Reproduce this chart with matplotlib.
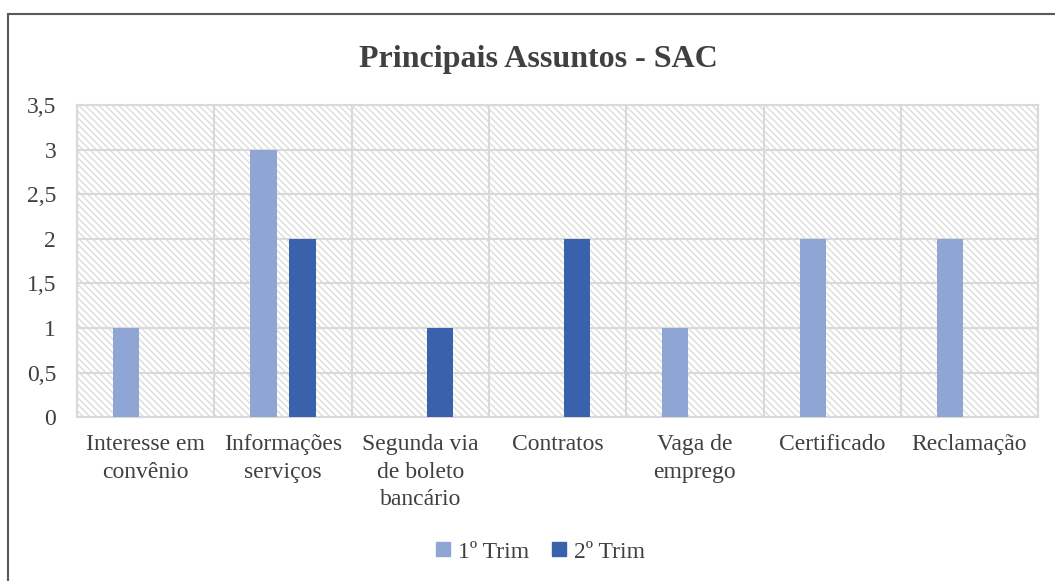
import matplotlib
matplotlib.use("Agg")
import matplotlib.pyplot as plt
import numpy as np
from matplotlib.patches import Rectangle
from matplotlib.lines import Line2D

categories = [
    "Interesse em\nconvênio",
    "Informações\nserviços",
    "Segunda via\nde boleto\nbancário",
    "Contratos",
    "Vaga de\nemprego",
    "Certificado",
    "Reclamação",
]
trim1 = [1, 3, 0, 0, 1, 2, 2]
trim2 = [0, 2, 1, 2, 0, 0, 0]
series_names = ["1º Trim", "2º Trim"]
yticks = [0, 0.5, 1, 1.5, 2, 2.5, 3, 3.5]
ytick_labels = ["0", "0,5", "1", "1,5", "2", "2,5", "3", "3,5"]

light = "#8FA5D4"
dark = "#3A62AC"
text_color = "#404040"
grid_color = "#D9D9D9"

plt.rcParams["font.family"] = ["Liberation Serif", "DejaVu Serif"]
plt.rcParams["hatch.linewidth"] = 1.0

fig = plt.figure(figsize=(10.55, 5.81), dpi=100)
ax = fig.add_axes([0.073, 0.282, 0.911, 0.537])

# hatched plot-area background
bg = Rectangle((0, 0), 1, 1, transform=ax.transAxes, facecolor="white",
               edgecolor="#DCDCDC", hatch="\\\\\\\\\\", linewidth=0, zorder=0)
ax.add_patch(bg)

x = np.arange(len(categories))
width = 0.19
offset = 0.142
ax.bar(x - offset, trim1, width, color=light, zorder=3)
ax.bar(x + offset, trim2, width, color=dark, zorder=3)

ax.set_xlim(-0.5, len(categories) - 0.5)
ax.set_ylim(0, 3.5)
ax.set_yticks(yticks)
ax.set_yticklabels(ytick_labels)
ax.set_xticks(x)
ax.set_xticklabels(categories, va="top")

for yv in yticks:
    ax.axhline(yv, color=grid_color, lw=1.5, zorder=1)
for xv in np.arange(-0.5, len(categories), 1.0):
    ax.axvline(xv, color=grid_color, lw=1.5, zorder=1)

for s in ax.spines.values():
    s.set_color(grid_color)
    s.set_linewidth(1.5)

ax.tick_params(axis="both", length=0, labelsize=17, colors=text_color)
ax.tick_params(axis="y", pad=15)
ax.tick_params(axis="x", pad=12)
for lbl in ax.get_xticklabels():
    lbl.set_linespacing(1.42)

fig.text(0.51, 0.898, "Principais Assuntos - SAC", ha="center", va="center",
         fontsize=23, fontweight="bold", color=text_color)

handles = [
    Line2D([], [], marker="s", linestyle="none", markersize=10, color=light),
    Line2D([], [], marker="s", linestyle="none", markersize=10, color=dark),
]
fig.legend(handles, series_names, loc="center", bbox_to_anchor=(0.51, 0.05),
           ncol=2, frameon=False, fontsize=17, labelcolor=text_color,
           handletextpad=0.1, columnspacing=0.8, handlelength=1.0)

# outer chart border (left and top visible)
fig.add_artist(Line2D([0.0076, 0.0076], [0.0, 0.976], transform=fig.transFigure,
                      color="#595959", lw=1.5))
fig.add_artist(Line2D([0.0076, 1.0], [0.976, 0.976], transform=fig.transFigure,
                      color="#595959", lw=1.5))

fig.savefig("out.png", dpi=100)
